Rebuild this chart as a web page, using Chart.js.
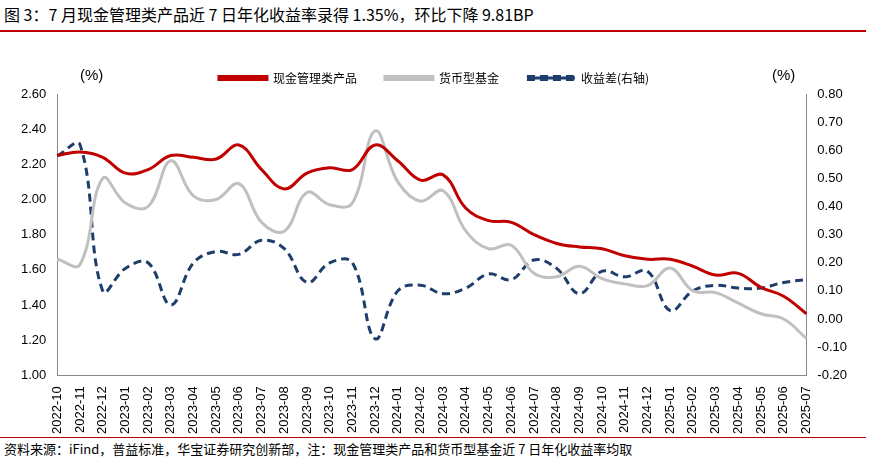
<!DOCTYPE html>
<html>
<head>
<meta charset="utf-8">
<script src="https://cdn.jsdelivr.net/npm/chart.js@4"></script>
<style>
body { margin: 0; width: 872px; height: 461px; background: #fff; font-family: "Noto Sans CJK SC", sans-serif; overflow: hidden; }
#title { position: absolute; left: 4px; top: 2px; font-size: 16px; color: #000; }
#topline { position: absolute; left: 0; top: 30px; width: 866px; border-top: 2px solid #c00000; }
#box { position: absolute; left: 0; top: 44px; width: 872px; height: 393px; }
#botline { position: absolute; left: 0; top: 437px; width: 866px; border-top: 1.5px solid #c00000; }
#src { position: absolute; left: 4px; top: 439px; font-size: 13px; color: #000; }
</style>
</head>
<body>
<div id="title">图 3：7 月现金管理类产品近 7 日年化收益率录得 1.35%，环比下降 9.81BP</div>
<div id="topline"></div>
<div id="box"><canvas id="c" width="872" height="393"></canvas></div>
<div id="botline"></div>
<div id="src">资料来源：iFind，普益标准，华宝证券研究创新部，注：现金管理类产品和货币型基金近 7 日年化收益率均取</div>
<script>
const months = ['2022-10','2022-11','2022-12','2023-01','2023-02','2023-03','2023-04','2023-05','2023-06','2023-07','2023-08','2023-09','2023-10','2023-11','2023-12','2024-01','2024-02','2024-03','2024-04','2024-05','2024-06','2024-07','2024-08','2024-09','2024-10','2024-11','2024-12','2025-01','2025-02','2025-03','2025-04','2025-05','2025-06','2025-07'];
const cashMgmt = [2.25,2.27,2.24,2.15,2.17,2.25,2.24,2.23,2.31,2.17,2.06,2.15,2.18,2.17,2.31,2.22,2.11,2.14,1.95,1.88,1.87,1.80,1.75,1.73,1.72,1.68,1.66,1.66,1.62,1.57,1.58,1.50,1.45,1.35];
const moneyFund = [1.66,1.63,2.12,1.98,1.96,2.22,2.02,2.00,2.09,1.87,1.82,2.04,1.97,1.98,2.39,2.10,1.99,2.05,1.82,1.72,1.74,1.58,1.56,1.62,1.55,1.52,1.51,1.61,1.48,1.47,1.41,1.35,1.32,1.21];
const spread = [0.58,0.62,0.10,0.18,0.20,0.05,0.20,0.24,0.23,0.28,0.25,0.13,0.20,0.20,-0.07,0.10,0.12,0.09,0.11,0.16,0.14,0.21,0.18,0.09,0.17,0.15,0.17,0.03,0.10,0.12,0.11,0.11,0.13,0.14];

const font = { family: 'Liberation Sans, Arial, sans-serif', size: 13 };

const unitLabels = {
    id: 'units',
    afterDraw(chart) {
        const ctx = chart.ctx;
        ctx.save();
        ctx.font = '15px Liberation Sans, Arial, sans-serif';
        ctx.fillStyle = '#000';
        ctx.fillText('(%)', 80, 32);
        ctx.fillText('(%)', 772, 32);
        ctx.restore();
    }
};

new Chart(document.getElementById('c').getContext('2d'), {
    type: 'line',
    data: {
        labels: months,
        datasets: [{
            label: '现金管理类产品',
            data: cashMgmt,
            borderColor: '#c00000',
            backgroundColor: '#c00000',
            borderWidth: 3,
            yAxisID: 'y'
        }, {
            label: '货币型基金',
            data: moneyFund,
            borderColor: '#c0c0c0',
            backgroundColor: '#c0c0c0',
            borderWidth: 3,
            yAxisID: 'y'
        }, {
            label: '收益差(右轴)',
            data: spread,
            borderColor: '#1f3d6b',
            backgroundColor: '#1f3d6b',
            borderWidth: 3,
            borderDash: [8, 5],
            yAxisID: 'y1'
        }]
    },
    options: {
        responsive: false,
        animation: false,
        layout: { padding: { left: 18, right: 22, top: 0, bottom: 0 } },
        elements: { point: { radius: 0 }, line: { tension: 0.4 } },
        plugins: {
            legend: {
                labels: {
                    font: { family: 'Noto Sans CJK SC', size: 12 },
                    color: '#000',
                    boxWidth: 48, boxHeight: 3,
                    padding: 28
                }
            },
            tooltip: { enabled: false }
        },
        scales: {
            x: {
                grid: { display: false, drawTicks: true },
                border: { color: '#888' },
                ticks: { font: font, color: '#000', maxRotation: 90, minRotation: 90, autoSkip: false }
            },
            y: {
                position: 'left', min: 1.0, max: 2.6,
                grid: { display: false },
                border: { color: '#888' },
                ticks: { stepSize: 0.2, font: font, color: '#000', callback: v => v.toFixed(2) }
            },
            y1: {
                position: 'right', min: -0.2, max: 0.8,
                grid: { display: false },
                border: { color: '#888' },
                ticks: { stepSize: 0.1, font: font, color: '#000', callback: v => v.toFixed(2) }
            }
        }
    },
    plugins: [unitLabels]
});
</script>
</body>
</html>
